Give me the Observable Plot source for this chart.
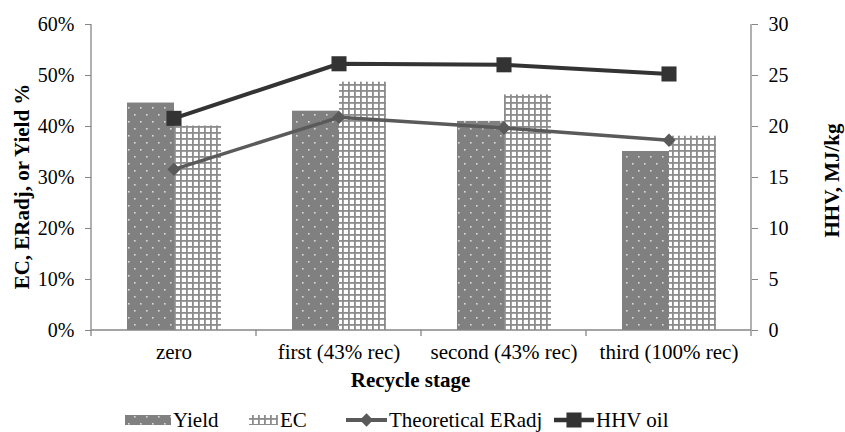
<!DOCTYPE html>
<html><head><meta charset="utf-8">
<script src="https://cdn.jsdelivr.net/npm/d3@7"></script>
<script src="https://cdn.jsdelivr.net/npm/@observablehq/plot@0.6"></script>
<style>
html,body{margin:0;padding:0;background:#fff;font-family:"Liberation Serif","Times New Roman",serif;}
#chart svg{display:block;}
svg text{font-family:"Liberation Serif","Times New Roman",serif;}
</style></head><body><div id="chart"></div><div id="legend"></div>
<script>
// ---- data ----
const stages = ["zero", "first (43% rec)", "second (43% rec)", "third (100% rec)"];
const yieldPct = [44.6, 43.0, 41.0, 35.1];
const ecPct = [40.1, 48.7, 46.2, 38.1];
const erAdjPct = [31.6, 41.8, 39.7, 37.3];
const hhvOil = [20.8, 26.15, 26.05, 25.15];
const pctTicks = [0, 10, 20, 30, 40, 50, 60];
const hhvTicks = [0, 5, 10, 15, 20, 25, 30];
const seriesNames = ["Yield", "EC", "Theoretical ERadj", "HHV oil"];

const ratio = 60 / 30; // left 60% ↔ right 30 MJ/kg
const rows = stages.map((s, i) => ({
  stage: s, yield: yieldPct[i], ec: ecPct[i], er: erAdjPct[i],
  hhv: hhvOil[i], hhvScaled: hhvOil[i] * ratio
}));

const axisColor = "#868686";
const font = '"Liberation Serif", "Times New Roman", serif';

function axisLines(...args) {
  const dims = args.find(a => a && a.marginLeft !== undefined);
  const scales = args.find(a => a && typeof a.x === "function");
  const {width, marginLeft, marginRight, marginTop} = dims;
  const x = scales.x, y = scales.y;
  const bw = x.bandwidth ? x.bandwidth() : (width - marginLeft - marginRight) / stages.length;
  const y0 = y(0);
  const g = d3.create("svg:g").attr("stroke", axisColor).attr("stroke-width", 1.3).attr("fill", "none");
  g.append("line").attr("x1", marginLeft).attr("x2", marginLeft).attr("y1", marginTop).attr("y2", y0);
  g.append("line").attr("x1", width - marginRight).attr("x2", width - marginRight).attr("y1", marginTop).attr("y2", y0);
  g.append("line").attr("x1", marginLeft).attr("x2", width - marginRight).attr("y1", y0).attr("y2", y0);
  const bounds = stages.map(s => x(s)).concat([x(stages[stages.length - 1]) + bw]);
  for (const b of bounds) g.append("line").attr("x1", b).attr("x2", b).attr("y1", y0).attr("y2", y0 + 6);
  return g.node();
}

const chart = Plot.plot({
  width: 845,
  height: 400,
  marginLeft: 91,
  marginRight: 94,
  marginTop: 24,
  marginBottom: 70,
  style: {fontFamily: font, fontSize: "20px", color: "black", background: "white", overflow: "visible"},
  x: {type: "band", domain: stages, padding: 0, axis: null},
  y: {domain: [0, 60], axis: null},
  marks: [
    Plot.barY(rows, {x: "stage", y: "yield", fill: "url(#dotPat)", insetLeft: 36, insetRight: 82}),
    Plot.barY(rows, {x: "stage", y: "ec", fill: "url(#gridPat)", insetLeft: 83, insetRight: 35}),
    axisLines,
    Plot.axisY(pctTicks, {anchor: "left", tickFormat: d => d + "%", tickSize: 6, tickPadding: 11, stroke: axisColor, fill: "black", fontSize: 20, label: null}),
    Plot.axisY(pctTicks, {anchor: "right", tickFormat: d => String(d / ratio), tickSize: 6, tickPadding: 11, stroke: axisColor, fill: "black", fontSize: 20, label: null}),
    Plot.axisX(stages, {anchor: "bottom", tickSize: 0, tickPadding: 14, fill: "black", fontSize: 21, label: null}),
    Plot.line(rows, {x: "stage", y: "er", stroke: "#5a5a5a", strokeWidth: 3.5}),
    Plot.line(rows, {x: "stage", y: "hhvScaled", stroke: "#333333", strokeWidth: 4}),
    Plot.dot(rows, {x: "stage", y: "er", symbol: "diamond2", r: 6, fill: "#5a5a5a", stroke: "none"}),
    Plot.dot(rows, {x: "stage", y: "hhvScaled", symbol: "square", r: 8.5, fill: "#333333", stroke: "none"}),
    Plot.text(["Recycle stage"], {frameAnchor: "bottom", dy: 56, dx: -11, textAnchor: "middle", fontWeight: "bold", fontSize: 21, fill: "black"}),
    Plot.text(["EC, ERadj, or Yield %"], {frameAnchor: "left", dx: -69, dy: 9, rotate: -90, textAnchor: "middle", lineAnchor: "middle", fontWeight: "bold", fontSize: 21, fill: "black"}),
    Plot.text(["HHV, MJ/kg"], {frameAnchor: "right", dx: 81, dy: 3, rotate: -90, textAnchor: "middle", lineAnchor: "middle", fontWeight: "bold", fontSize: 21, fill: "black"})
  ]
});

const patDefs = (svgSel, pre) => {
  const defs = svgSel.insert("defs", ":first-child");
  const p1 = defs.append("pattern").attr("id", pre + "dotPat").attr("width", 12).attr("height", 14).attr("patternUnits", "userSpaceOnUse");
  p1.append("rect").attr("width", 12).attr("height", 14).attr("fill", "#808080");
  p1.append("rect").attr("x", 2).attr("y", 2).attr("width", 1.6).attr("height", 1.6).attr("fill", "#dcdcdc");
  p1.append("rect").attr("x", 8).attr("y", 9).attr("width", 1.6).attr("height", 1.6).attr("fill", "#dcdcdc");
  const p2 = defs.append("pattern").attr("id", pre + "gridPat").attr("width", 6).attr("height", 6).attr("patternUnits", "userSpaceOnUse");
  p2.append("rect").attr("width", 6).attr("height", 6).attr("fill", "#ffffff");
  p2.append("rect").attr("width", 1.8).attr("height", 6).attr("fill", "#8c8c8c");
  p2.append("rect").attr("width", 6).attr("height", 1.8).attr("fill", "#8c8c8c");
};
patDefs(d3.select(chart), "");
document.getElementById("chart").appendChild(chart);

// ---- legend ----
const lg = d3.select("#legend").append("svg").attr("width", 845).attr("height", 32)
  .style("display", "block").style("font-family", font).style("font-size", "21px");
patDefs(lg, "lg");
const cy = 20;
const items = [
  {name: seriesNames[0], kind: "dots", x: 125, w: 46},
  {name: seriesNames[1], kind: "grid", x: 249, w: 29},
  {name: seriesNames[2], kind: "diamond", x: 346, w: 41},
  {name: seriesNames[3], kind: "square", x: 554, w: 40}
];
for (const it of items) {
  const g = lg.append("g");
  if (it.kind === "dots") g.append("rect").attr("x", it.x).attr("y", cy - 5).attr("width", it.w).attr("height", 10).attr("fill", "url(#lgdotPat)");
  if (it.kind === "grid") g.append("rect").attr("x", it.x).attr("y", cy - 5).attr("width", it.w).attr("height", 10).attr("fill", "url(#lggridPat)");
  if (it.kind === "diamond") {
    g.append("line").attr("x1", it.x).attr("x2", it.x + it.w).attr("y1", cy).attr("y2", cy).attr("stroke", "#5a5a5a").attr("stroke-width", 4);
    g.append("path").attr("d", d3.symbol(d3.symbolDiamond2, 36 * Math.PI)()).attr("transform", `translate(${it.x + it.w / 2},${cy})`).attr("fill", "#5a5a5a");
  }
  if (it.kind === "square") {
    g.append("line").attr("x1", it.x).attr("x2", it.x + it.w).attr("y1", cy).attr("y2", cy).attr("stroke", "#333333").attr("stroke-width", 4.5);
    g.append("path").attr("d", d3.symbol(d3.symbolSquare, 72 * Math.PI)()).attr("transform", `translate(${it.x + it.w / 2},${cy})`).attr("fill", "#333333");
  }
  g.append("text").attr("x", it.x + it.w + 2).attr("y", cy).attr("dy", "0.35em").attr("fill", "black").text(it.name);
}
</script></body></html>
